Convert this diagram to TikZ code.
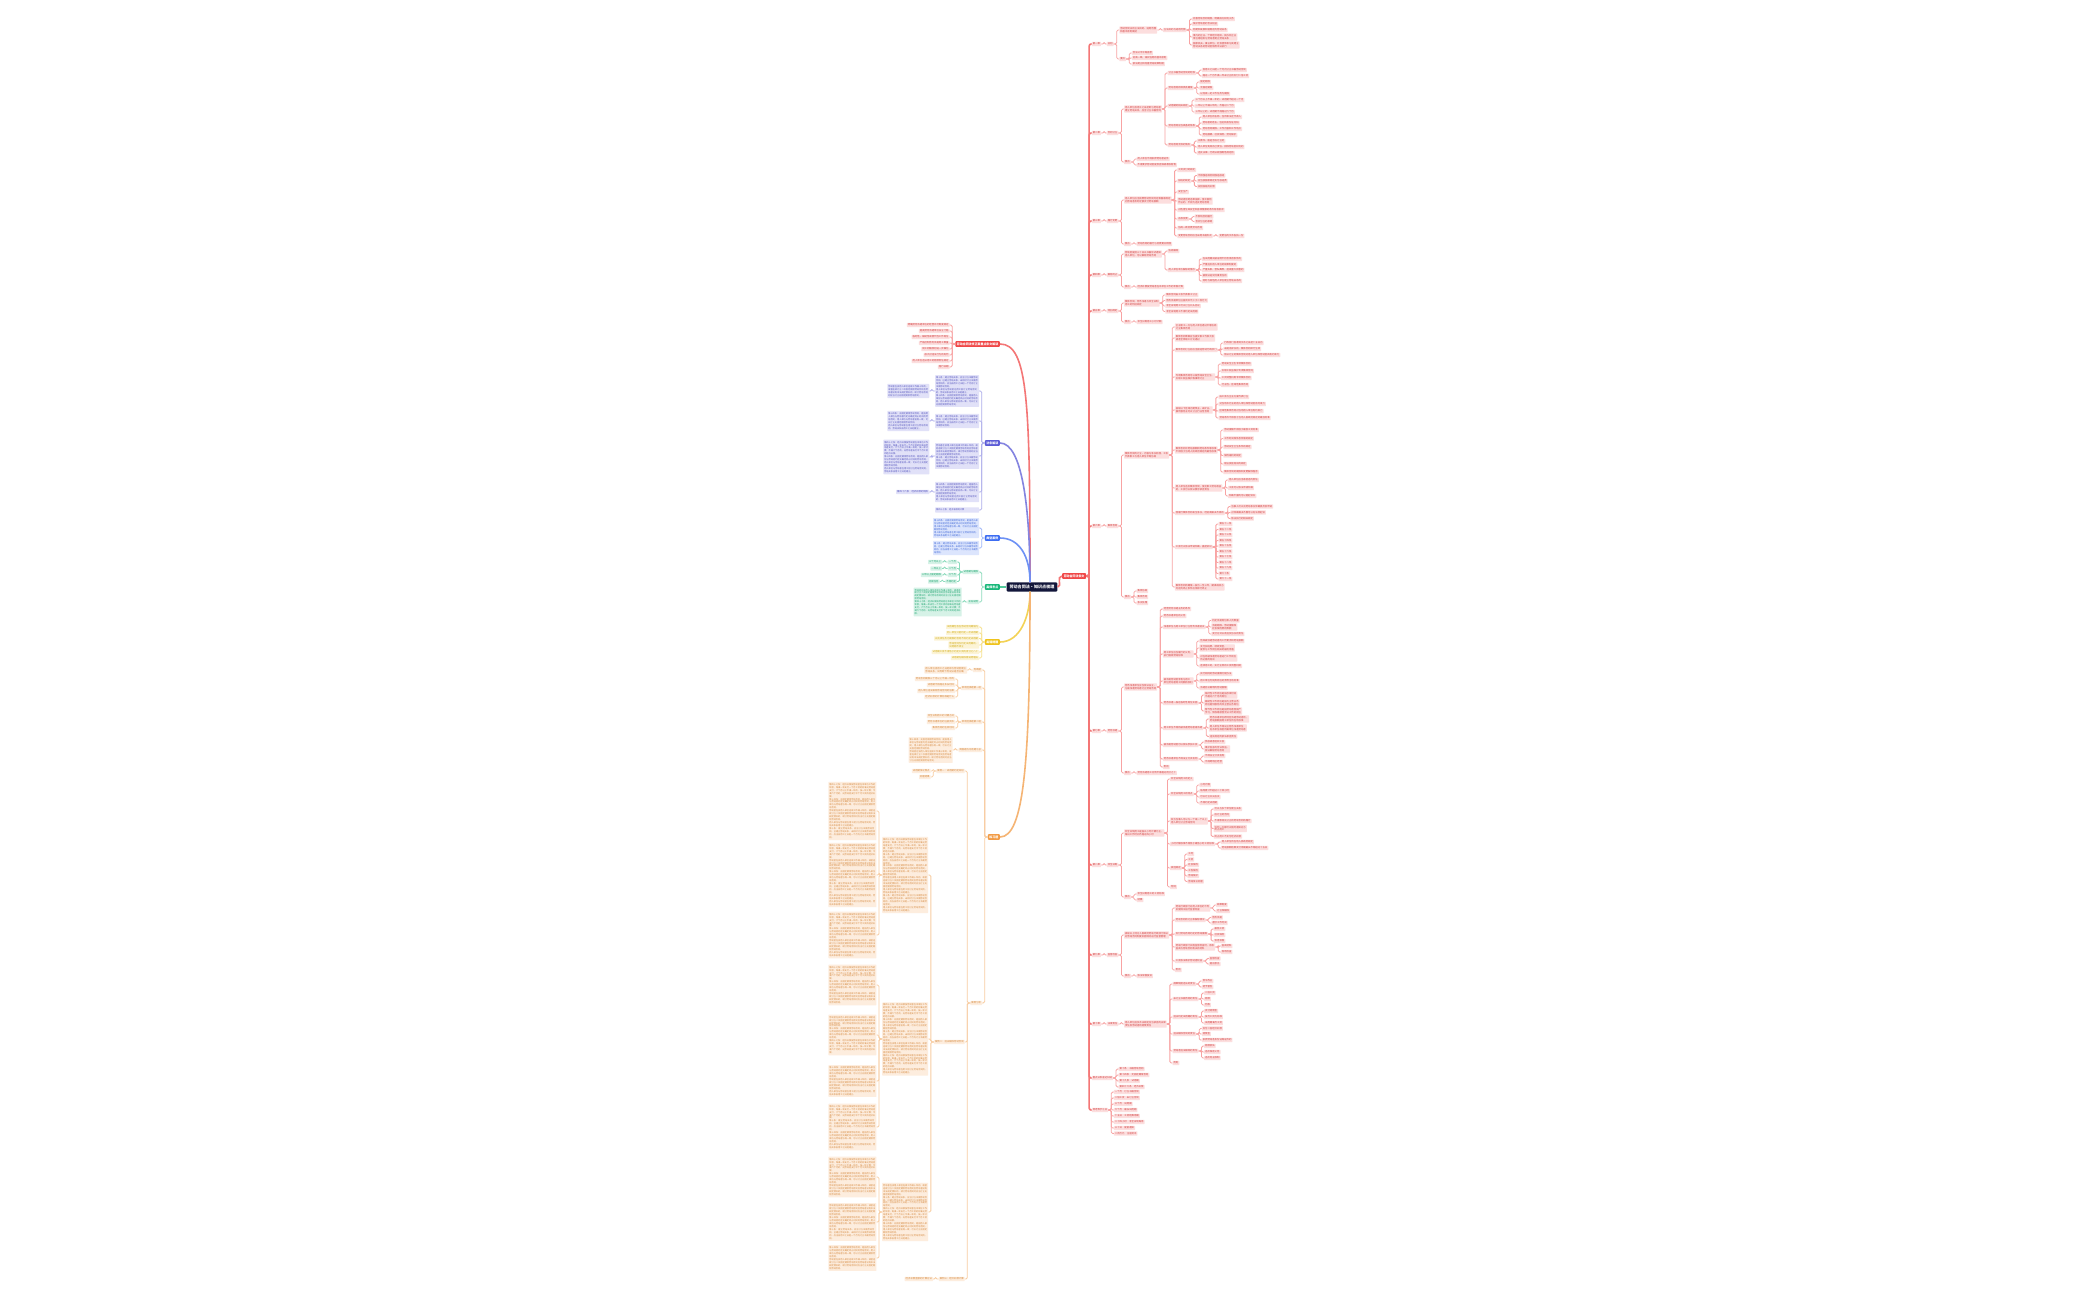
\documentclass[tikz,border=0pt]{standalone}
\usepackage{fontspec}
\setmainfont{Noto Sans CJK SC}
\XeTeXlinebreaklocale "zh"
\XeTeXlinebreakskip = 0pt plus 0.5pt

\definecolor{cRoot}{HTML}{12163A}
\definecolor{cRed}{HTML}{F04848}
\definecolor{cPur}{HTML}{5B5BD6}
\definecolor{cBlu}{HTML}{3D6DF2}
\definecolor{cGrn}{HTML}{19B87A}
\definecolor{cYel}{HTML}{EFC31C}
\definecolor{cOrg}{HTML}{F29B45}

% paragraph texts of the big boxes
\newcommand{\txtA}{第十条：建立劳动关系，应当订立书面劳动合同。已建立劳动关系，未同时订立书面劳动合同的，应当自用工之日起一个月内订立书面劳动合同。}
\newcommand{\txtB}{用人单位与劳动者在用工前订立劳动合同的，劳动关系自用工之日起建立。}
\newcommand{\txtC}{第十四条：无固定期限劳动合同，是指用人单位与劳动者约定无确定终止时间的劳动合同。用人单位与劳动者协商一致，可以订立无固定期限劳动合同。}
\newcommand{\txtD}{劳动者在该用人单位连续工作满十年的，或者连续订立二次固定期限劳动合同且劳动者没有本法规定情形的，续订劳动合同时应当订立无固定期限劳动合同。}
\newcommand{\txtE}{第四十七条：经济补偿按劳动者在本单位工作的年限，每满一年支付一个月工资的标准向劳动者支付。六个月以上不满一年的，按一年计算；不满六个月的，向劳动者支付半个月工资的经济补偿。}
\newcommand{\np}{\par}

\tikzset{
  leaf/.style={fill=#1!18, text=#1!88!black, font=\fontsize{3.4}{4}\selectfont,
    inner xsep=0.5mm, inner ysep=0.55mm, rounded corners=0.3mm, align=left},
  para/.style={text width=#1, font=\fontsize{3.1}{4.2}\selectfont, inner ysep=0.8mm},
  topic/.style={fill=#1, text=white, font=\fontsize{4.2}{5}\selectfont\bfseries,
    inner xsep=0.8mm, inner ysep=0.7mm, rounded corners=0.4mm},
  link/.style={draw=#1!50, line width=0.4mm, rounded corners=0.7mm},
  branch/.style={draw=#1!75, line width=0.8mm, rounded corners=1mm}
}

% children to the right of a node: [extra style]{colour}{parent}{y/text,...}
\newcommand{\rkids}[4][]{%
  \path (#3.east) ++(3,0) coordinate (#3-b);
  \path (#3.east) ++(5.5,0) coordinate (#3-c);
  \foreach \yy/\lbl [count=\n] in {#4}{%
    \coordinate (yref) at (0,\yy);
    \node[leaf=#2, anchor=west, #1] (#3-\n) at (#3-c |- yref) {\lbl};
    \draw[link=#2] (#3.east) -- (#3-b) |- (#3-\n.west);
  }}
% children to the left of a node
\newcommand{\lkids}[4][]{%
  \path (#3.west) ++(-3,0) coordinate (#3-b);
  \path (#3.west) ++(-5.5,0) coordinate (#3-c);
  \foreach \yy/\lbl [count=\n] in {#4}{%
    \coordinate (yref) at (0,\yy);
    \node[leaf=#2, anchor=east, #1] (#3-\n) at (#3-c |- yref) {\lbl};
    \draw[link=#2] (#3.west) -- (#3-b) |- (#3-\n.east);
  }}

\begin{document}
\begin{tikzpicture}[x=0.5mm, y=-0.5mm]

\fill[white] (0,0) rectangle (2100,1300);
\useasboundingbox (0,0) rectangle (2100,1300);

% -----------------------
% Centre and main topics
% -----------------------
\node[fill=cRoot, text=white, font=\fontsize{5.8}{6.5}\selectfont\bfseries,
  inner xsep=1.5mm, inner ysep=1.3mm, rounded corners=0.5mm] (root) at (1032,587) {劳动合同法·知识点梳理};

\node[topic=cRed, anchor=west] (rmain) at (1062,576) {劳动合同法条文};
\node[topic=cRed, anchor=east] (rtitle) at (1000,344) {劳动合同法修正案重点条文解读};
\node[topic=cPur, anchor=east] (pur) at (1000,443) {法条解读};
\node[topic=cBlu, anchor=east] (blu) at (1000,538) {典型案例};
\node[topic=cGrn, anchor=east] (grn) at (1000,587) {高频考点};
\node[topic=cYel, anchor=east] (yel) at (1000,642) {易错提醒};
\node[topic=cOrg, anchor=east] (org) at (1000,837) {练习题};

\draw[branch=cRed] (root.east) .. controls +(5,0) and +(-6,0) .. (rmain.west);
\draw[branch=cRed] (rtitle.east) .. controls +(28,0) and +(0,-180) .. ([xshift=-1mm]root.north);
\draw[branch=cPur] (pur.east) .. controls +(22,0) and +(0,-75) .. ([xshift=-1mm]root.north);
\draw[branch=cBlu] (blu.east) .. controls +(20,0) and +(0,-25) .. ([xshift=-1mm]root.north);
\draw[branch=cGrn] (grn.east) -- (root.west);
\draw[branch=cYel] (yel.east) .. controls +(20,0) and +(0,25) .. ([xshift=-1mm]root.south);
\draw[branch=cOrg] (org.east) .. controls +(24,0) and +(0,170) .. ([xshift=-1mm]root.south);

% -----------------------
% Right tree: chapters
% -----------------------
\path (rmain.east) ++(3,0) coordinate (tr);
\path (rmain.east) ++(5.5,0) coordinate (tr2);
\foreach \yy/\lbl [count=\n] in {44/第一章, 133/第二章, 221/第三章, 275/第四章, 311/第五章,
    526/第六章, 731/第七章, 865/第八章, 955/第九章, 1024/第十章,
    1078/重点法条速记归纳, 1110/常考数字汇总} {
  \coordinate (yref) at (0,\yy);
  \node[leaf=cRed, anchor=west] (c\n) at (tr2 |- yref) {\lbl};
  \draw[branch=cRed] (rmain.east) -- (tr) |- (c\n.west);
}

% chapter 1
\rkids{cRed}{c1}{44/总则}
\rkids{cRed}{c1-1}{30/{劳动合同法的立法目的、适用范围\\和基本原则概述}, 59/要点}
\rkids{cRed}{c1-1-1}{30/{立法目的与适用范围}}
\rkids{cRed}{c1-1-1-1}{19/{完善劳动合同制度，明确双方权利义务}, 24/{保护劳动者的合法权益},
  30/{构建和发展和谐稳定的劳动关系}, 37/{境内的企业、个体经济组织、民办非企业\\单位等组织与劳动者建立劳动关系},
  45/{国家机关、事业单位、社会团体和与其建立\\劳动关系的劳动者依照本法执行}}
\rkids{cRed}{c1-1-2}{53/{合法公平平等自愿}, 58/{协商一致、诚实信用的基本原则}, 64/{依法建立和完善劳动规章制度}}

% chapter 2
\rkids{cRed}{c2}{133/合同订立}
\rkids{cRed}{c2-1}{109/{用人单位自用工之日起即与劳动者\\建立劳动关系，应当订立书面合同}, 162/要点}
\rkids{cRed}{c2-1-1}{73/{订立书面劳动合同的时限}, 88/{劳动合同的种类及期限}, 106/{试用期的相关规定},
  126/{劳动合同应当具备的条款}, 145/{劳动合同无效的情形}}
\rkids{cRed}{c2-1-1-1}{70/{自用工之日起一个月内订立书面劳动合同}, 76/{超过一个月不满一年未订立的支付二倍工资}}
\rkids{cRed}{c2-1-1-2}{82/固定期限, 88/无固定期限, 94/{以完成一定工作任务为期限}}
\rkids{cRed}{c2-1-1-3}{100/{三个月以上不满一年的，试用期不超过一个月}, 106/{一年以上不满三年的，不超过二个月},
  112/{三年以上的，试用期不得超过六个月}}
\rkids{cRed}{c2-1-1-4}{117/{用人单位的名称、住所和法定代表人}, 123/{劳动者的姓名、住址和身份证号码},
  129/{劳动合同期限、工作内容和工作地点}, 135/{劳动报酬、社会保险、劳动保护}}
\rkids{cRed}{c2-1-1-5}{141/{以欺诈、胁迫手段订立的}, 147/{用人单位免除自己责任、排除劳动者权利的},
  153/{违反法律、行政法规强制性规定的}}
\rkids{cRed}{c2-1-2}{159/{用人单位不得扣押劳动者证件}, 165/{不得要求劳动者提供担保或收取财物}}

% chapter 3
\rkids{cRed}{c3}{221/履行变更}
\rkids{cRed}{c3-1}{200/{用人单位应当按照劳动合同约定和国家规定\\向劳动者及时足额支付劳动报酬}, 244/要点}
\rkids{cRed}{c3-1-1}{170/{工资支付的规定}, 181/{加班的规定}, 192/{安全生产},
  201/{劳动者拒绝违章指挥、强令冒险\\作业的，不视为违反劳动合同}, 210/{对危害生命安全和身体健康的条件有权批评},
  219/{名称变更}, 228/{协商一致变更劳动合同}, 236/{变更劳动合同应当采用书面形式}}
\rkids{cRed}{c3-1-1-2}{175.5/{不得强迫或变相强迫加班}, 181/{应当按国家规定支付加班费}, 186.5/{安排加班的补偿}}
\rkids{cRed}{c3-1-1-6}{216.5/{不影响合同履行}, 221.5/{合并分立的承继}}
\rkids{cRed}{c3-1-1-8}{236/{变更后的文本各执一份}}
\rkids{cRed}{c3-1-2}{244/{劳动合同的履行与变更要点梳理}}

% chapter 4
\rkids{cRed}{c4}{275/解除终止}
\rkids{cRed}{c4-1}{254/{劳动者提前三十日以书面形式通知\\用人单位，可以解除劳动合同}, 287/要点}
\rkids{cRed}{c4-1-1}{251/{协商解除}, 270/{用人单位单方解除的情形}}
\rkids{cRed}{c4-1-1-2}{259/{在试用期间被证明不符合录用条件的}, 264.5/{严重违反用人单位的规章制度的},
  270/{严重失职，营私舞弊，造成重大损害的}, 275.5/{被依法追究刑事责任的}, 281/{同时与其他用人单位建立劳动关系的}}
\rkids{cRed}{c4-1-2}{287/{经济补偿按劳动者在本单位工作的年限计算}}

% chapter 5
\rkids{cRed}{c5}{311/特别规定}
\rkids{cRed}{c5-1}{303/{集体合同、劳务派遣与非全日制\\用工的特别规定}, 322/要点}
\rkids{cRed}{c5-1-1}{295/{集体合同由工会代表职工订立}, 300.5/{劳务派遣单位注册资本不少于二百万元},
  306/{非全日制用工可以订立口头协议}, 311.5/{非全日制用工不得约定试用期}}
\rkids{cRed}{c5-1-2}{322/{非全日制用工小时计酬}}

% chapter 6
\rkids{cRed}{c6}{526/集体合同}
\rkids{cRed}{c6-1}{455/{集体合同的订立、内容与争议处理，工会\\代表职工与用人单位平等协商}, 597/要点}
\rkids{cRed}{c6-1-1}{327/{企业职工一方与用人单位通过平等协商\\订立集体合同}, 338/{集体合同草案应当提交职工代表大会\\或者全体职工讨论通过},
  350/{集体合同订立后应当报送劳动行政部门}, 377/{专项集体合同可以就劳动安全卫生、\\女职工权益保护等事项订立},
  410/{县级以下区域内建筑业、采矿业、\\餐饮服务业可以订立行业性合同}, 450/{集体合同中劳动报酬和劳动条件等标准\\不得低于当地人民政府规定的最低标准},
  488/{用人单位违反集体合同，侵犯职工劳动权益\\的，工会可以依法要求承担责任}, 513/{因履行集体合同发生争议，经协商解决不成的},
  547/{工会可以依法申请仲裁、提起诉讼}, 587/{集体合同的期限一般为一至三年，期满或双方\\约定的终止条件出现即行终止}}
\rkids{cRed}{c6-1-1-3}{343/{行政部门自收到文本之日起十五日内}, 349/{未提出异议的，集体合同即行生效},
  355/{依法订立的集体合同对用人单位和劳动者具有约束力}}
\rkids{cRed}{c6-1-1-4}{364/{劳动安全卫生专项集体合同}, 371/{女职工权益保护专项集体合同},
  378/{工资调整机制专项集体合同}, 385/{行业性、区域性集体合同}}
\rkids{cRed}{c6-1-1-5}{397/{由工会与企业方面代表订立}, 404/{对当地本行业的用人单位和劳动者有约束力},
  411/{区域性集体合同对当地用人单位有约束力}, 418/{劳动条件不得低于当地人民政府规定的最低标准}}
\rkids{cRed}{c6-1-1-6}{430/{劳动报酬不得低于最低工资标准}, 438.5/{工作时间和休息休假的规定}, 447/{劳动安全卫生条件的规定},
  455.5/{保险福利的规定}, 464/{职业技能培训的规定}, 472/{集体合同的期限和变更解除程序}}
\rkids{cRed}{c6-1-1-7}{480/{用人单位应当承担违约责任}, 488/{工会可以依法申请仲裁}, 496/{仲裁不服的可以提起诉讼}}
\rkids{cRed}{c6-1-1-8}{506.5/{当事人可以向劳动争议仲裁委员会申请}, 512.5/{对仲裁裁决不服可以向法院起诉}, 518.5/{依法执行的相关规定}}
\rkids{cRed}{c6-1-1-9}{524/第五十一条, 529.5/第五十二条, 535/第五十三条, 540.5/第五十四条, 546/第五十五条,
  551.5/第五十六条, 557/第五十七条, 562.5/第五十八条, 568/第五十九条, 573.5/第六十条, 579/第六十一条}
\rkids{cRed}{c6-1-2}{591/集体协商, 597/集体合同, 603/争议处理}

% chapter 7
\rkids{cRed}{c7}{731/劳务派遣}
\rkids{cRed}{c7-1}{687/{劳务派遣单位应当依法设立，\\与被派遣劳动者订立劳动合同}, 773/要点}
\rkids{cRed}{c7-1-1}{609/{经营劳务派遣业务的条件}, 616/{劳务派遣单位的义务}, 627/{派遣单位与用工单位订立劳务派遣协议},
  654/{用工单位应当履行的义务，\\执行国家劳动标准}, 681/{被派遣劳动者享有与用工\\单位劳动者同工同酬的权利},
  703/{劳务派遣一般在临时性岗位实施}, 728/{用工单位不得将被派遣劳动者再派遣},
  745/{被派遣劳动者可以依法参加工会}, 759/{劳务派遣单位不得设立分支机构}, 767/附则}
\rkids{cRed}{c7-1-1-3}{620.5/{约定派遣岗位和人员数量}, 627/{派遣期限、劳动报酬和\\社会保险费的数额}, 634/{支付方式以及违反协议的责任}}
\rkids{cRed}{c7-1-1-4}{641/{告知被派遣劳动者的工作要求和劳动报酬}, 648/{支付加班费、绩效奖金，\\提供与工作岗位相关的福利待遇},
  658/{对在岗被派遣劳动者进行工作岗位\\所必需的培训}, 666/{连续用工的，实行正常的工资调整机制}}
\rkids{cRed}{c7-1-1-5}{674/{实行相同的劳动报酬分配办法}, 681/{用工单位无同类岗位的参照当地标准}, 688/{派遣协议载明的劳动报酬}}
\rkids{cRed}{c7-1-1-6}{695/{临时性工作岗位是指存续时间\\不超过六个月的岗位}, 703/{辅助性工作岗位是指为主营业务\\岗位提供服务的非主营业务岗位},
  711/{替代性工作岗位是指劳动者因脱产\\学习、休假等原因无法工作的岗位}}
\rkids{cRed}{c7-1-1-7}{719/{劳务派遣单位跨地区派遣劳动者的，\\劳动报酬按用工单位所在地标准}, 728/{用人单位不得设立劳务派遣单位\\向本单位或者所属单位派遣劳动者},
  736.5/{违反规定的依法承担责任}}
\rkids{cRed}{c7-1-1-8}{742/{参加或者组织工会}, 749/{维护自身的合法权益，\\依法解除劳动合同}}
\rkids{cRed}{c7-1-1-9}{756/{不得设立分支机构}, 762/{不得跨地区经营}}
\rkids{cRed}{c7-1-2}{773/{劳务派遣用工比例不得超过百分之十}}

% chapter 8
\rkids{cRed}{c8}{865/非全日制}
\rkids{cRed}{c8-1}{833/{非全日制用工是指以小时计酬为主，\\每日工作时间不超过四小时}, 897/要点}
\rkids{cRed}{c8-1-1}{779/{非全日制用工的定义}, 794/{非全日制用工的特点}, 821/{双方当事人可以与一个或一个以上\\用人单位订立劳动合同},
  844/{小时计酬标准不得低于最低小时工资标准}, 868/其他规定, 887/附则}
\rkids{cRed}{c8-1-1-2}{785/小时计酬, 791/{每周累计不超过二十四小时}, 797/{可以订立口头协议}, 803/{不得约定试用期}}
\rkids{cRed}{c8-1-1-3}{809/{可以与多个单位建立关系}, 815/{后订立的合同}, 821/{不得影响先订立的劳动合同的履行},
  828.5/{任何一方都可以随时通知对方\\终止用工}, 836.5/{终止用工不支付经济补偿}}
\rkids{cRed}{c8-1-1-4}{842/{用人单位所在地人民政府规定}, 848/{劳动报酬结算支付周期最长不得超过十五日}}
\rkids{cRed}{c8-1-1-5}{854/工时, 859.5/工资, 865/社会保险, 870.5/工伤保险, 876/劳动保护, 881.5/劳动争议处理}
\rkids{cRed}{c8-1-2}{894/{非全日制用工的工资标准}, 900/结算}

% chapter 9
\rkids{cRed}{c9}{955/监督检查}
\rkids{cRed}{c9-1}{935/{县级以上地方人民政府劳动行政部门依法\\对劳动合同制度实施情况进行监督管理}, 976/要点}
\rkids{cRed}{c9-1-1}{908/{劳动行政部门对用人单位的下列\\实施情况进行监督检查}, 920/{劳动合同的订立和解除情况},
  934/{支付劳动合同约定的劳动报酬}, 947/{劳动行政部门实施监督检查时，有权\\查阅与劳动合同有关的材料},
  961/{工会依法维护劳动者权益}, 970/附则}
\rkids{cRed}{c9-1-1-1}{905/规章制度, 911/订立和解除}
\rkids{cRed}{c9-1-1-2}{917.5/劳务派遣, 923/遵守工作时间}
\rkids{cRed}{c9-1-1-3}{929/最低工资, 935/社会保险, 941/休息休假}
\rkids{cRed}{c9-1-1-4}{946/查阅材料, 952/现场检查}
\rkids{cRed}{c9-1-1-5}{958.5/监督检查, 964/提出意见}
\rkids{cRed}{c9-1-2}{976/{依法举报投诉}}

% chapter 10
\rkids{cRed}{c10}{1024/法律责任}
\rkids{cRed}{c10-1}{1024/{用人单位违反本法规定应当承担的法律\\责任及劳动者的赔偿责任}}
\rkids{cRed}{c10-1-1}{984/{规章制度违法的责任}, 999/{未订立书面合同的责任}, 1017/{违法约定试用期的责任},
  1034/{违法解除合同的责任}, 1051/{劳动者违法解除的责任}, 1063/附则}
\rkids{cRed}{c10-1-1-1}{981/责令改正, 987/给予警告}
\rkids{cRed}{c10-1-1-2}{993/二倍工资, 999/赔偿, 1005/罚款}
\rkids{cRed}{c10-1-1-3}{1011/支付赔偿金, 1017/{按月工资为标准}, 1023/{试用期满月工资}}
\rkids{cRed}{c10-1-1-4}{1028.5/{支付二倍经济补偿}, 1034/赔偿金, 1040/{扣押劳动者身份证等证件的}}
\rkids{cRed}{c10-1-1-5}{1046/赔偿损失, 1052/{违反保密义务}, 1058/{违反竞业限制}}

% summaries
\rkids{cRed}{c11}{1069/{第十条　书面劳动合同}, 1075/{第十四条　无固定期限合同}, 1081/{第十九条　试用期}, 1087/{第四十六条　经济补偿}}
\rkids{cRed}{c12}{1092/{一个月　订立书面合同}, 1098/{二倍工资　未订立合同}, 1104/{三个月　试用期}, 1110/{六个月　最长试用期},
  1116/{十五日　工资结算周期}, 1122/{二十四小时　非全日制每周}, 1128/{三十日　提前通知}, 1133.5/{二百万元　注册资本}}

% -----------------------
% Left side
% -----------------------
\lkids{cRed}{rtitle}{325/{明确劳务派遣单位的经营许可制度规定}, 331/{提高劳务派遣单位设立门槛},
  337/{临时性、辅助性或替代性工作岗位}, 343/{严格控制劳务派遣用工数量}, 349/{同工同酬原则进一步细化},
  355/{加大对违法行为的处罚}, 361/{用人单位违法用工的赔偿责任规定}, 367/施行日期}

\lkids[para=21mm]{cPur}{pur}{391/{\txtA\np\txtB\np\txtC}, 421/{\txtA}, 456/{\txtD\np\txtA},
  492/{\txtC\np\txtB}, 510/{第四十七条　经济补偿的计算}}
\lkids[para=20mm]{cPur}{pur-1}{391/{\txtD}}
\lkids[para=20mm]{cPur}{pur-2}{421/{\txtC\np\txtB}}
\lkids[para=22mm]{cPur}{pur-3}{457/{\txtE\np\txtC\np\txtB}}
\lkids{cPur}{pur-4}{492/{第四十六条　经济补偿的情形}}

\lkids[para=22mm]{cBlu}{blu}{528/{\txtC\np\txtB}, 548/{\txtA}}

\lkids{cGrn}{grn}{572/{试用期与期限}, 602/补充说明}
\lkids{cGrn}{grn-1}{562/一个月, 568.5/二个月, 575/六个月, 581.5/不得约定}
\lkids{cGrn}{grn-1-1}{562/{三个月以上}}
\lkids{cGrn}{grn-1-2}{568.5/{一年以上}}
\lkids{cGrn}{grn-1-3}{575/{三年以上固定期限}}
\lkids{cGrn}{grn-1-4}{581.5/{完成任务}}
\lkids[para=23mm]{cGrn}{grn-2}{602/{\txtD\np\txtE}}

\lkids{cYel}{yel}{627/{试用期包含在劳动合同期限内}, 633/{同一单位只能约定一次试用期},
  638.5/{以完成任务为期限的合同不得约定试用期}, 645/{劳动合同仅约定试用期的，\\试用期不成立},
  652/{试用期工资不得低于约定工资的百分之八十}, 658/{试用期内解除需说明理由}}

% orange: exercises
\lkids{cOrg}{org}{670/判断题, 688/{单项选择题第一组}, 722/{单项选择题第二组}, 750/{简答题与论述题汇总}, 1003/案例分析}
\lkids{cOrg}{org-1}{670/{用人单位自用工之日起即与劳动者建立\\劳动关系，试判断下列说法是否正确}}
\lkids{cOrg}{org-2}{679/{劳动合同期限三个月以上不满一年的}, 685/{试用期不得超过多长时间},
  691/{用人单位违法解除劳动合同的后果}, 697/{经济补偿的计算标准是什么}}
\lkids{cOrg}{org-3}{716/{非全日制用工的计酬方式}, 722/{劳务派遣单位的注册资本}, 728/{集体合同的生效时间}}
\lkids[para=21mm]{cOrg}{org-4}{750/{\txtC\np\txtD}}
\lkids{cOrg}{org-5}{771/{案例一：试用期约定纠纷}, 1042/{案例二：违法解除劳动合同}, 1279/{案例三：经济补偿计算}}
\lkids{cOrg}{org-5-1}{771/{试用期争议焦点}, 777/处理结果}
\lkids[para=22mm]{cOrg}{org-5-2}{875/{\txtE\np\txtA\np\txtC\np\txtD\np\txtB\np\txtA\np\txtB},
  1039/{\txtE\np\txtC\np\txtA\np\txtD\np\txtE\np\txtB},
  1212/{\txtD\np\txtA\np\txtE\np\txtC\np\txtB}}
\lkids[para=23mm]{cOrg}{org-5-2-1}{811/{\txtE\np\txtC\np\txtD\np\txtB\np\txtA},
  875/{\txtE\np\txtD\np\txtC\np\txtA\np\txtB\np\txtB}, 935/{\txtE\np\txtC\np\txtD\np\txtB}}
\lkids[para=23mm]{cOrg}{org-5-2-2}{985/{\txtE\np\txtC\np\txtD}, 1035/{\txtD\np\txtC\np\txtE},
  1081/{\txtC\np\txtD\np\txtB}, 1127/{\txtE\np\txtA\np\txtC\np\txtB}}
\lkids[para=23mm]{cOrg}{org-5-2-3}{1177/{\txtE\np\txtC\np\txtD}, 1222/{\txtD\np\txtC\np\txtA}, 1258/{\txtC\np\txtD}}
\lkids{cOrg}{org-5-3}{1279/{经济补偿金额的计算方法}}

\end{tikzpicture}
\end{document}
